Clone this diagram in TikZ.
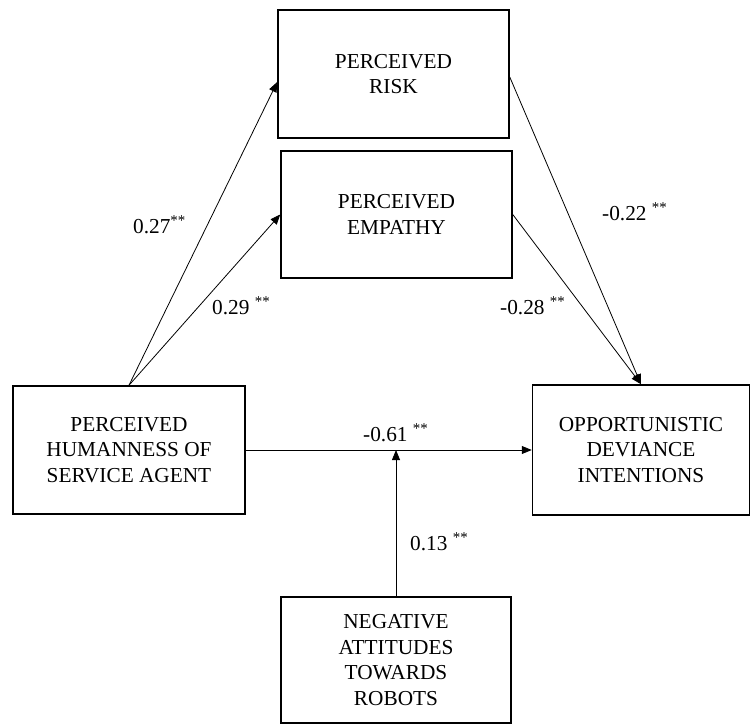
\documentclass[tikz,border=0pt]{standalone}
\usepackage{fontspec}
\setmainfont{Liberation Serif}
\usepackage{tikz}
\usetikzlibrary{arrows.meta,positioning,calc}

\tikzset{
	varbox/.style={draw, line width=1.5pt, align=center, inner sep=2pt,
		font=\fontsize{21.3}{25.5}\selectfont},
	path/.style={line width=0.8pt, -{Triangle[length=10pt,width=8pt]}},
	coef/.style={anchor=west, inner sep=0pt, font=\fontsize{21.3}{25.5}\selectfont}
}

\begin{document}
\begin{tikzpicture}[x=1pt,y=-1pt]
	\useasboundingbox (0,0) rectangle (752,725);
	
	% constructs
	\node[varbox, minimum width=231pt, minimum height=128pt] (risk) at (393.5,74) {PERCEIVED\\RISK};
	\node[varbox, minimum width=231pt, minimum height=127pt] (emp) at (396.5,214.5) {PERCEIVED\\EMPATHY};
	\node[varbox, minimum width=232pt, minimum height=128pt] (hum) at (129,450) {PERCEIVED\\HUMANNESS OF\\SERVICE AGENT};
	\node[varbox, minimum width=217pt, minimum height=130pt] (opp) at (641,450) {OPPORTUNISTIC\\DEVIANCE\\INTENTIONS};
	\node[varbox, minimum width=230pt, minimum height=126pt] (neg) at (396,660) {NEGATIVE\\ATTITUDES\\TOWARDS\\ROBOTS};
	
	% moderation point on the direct path
	\coordinate (mod) at (neg.north |- hum.east);
	
	% paths
	\draw[path] (hum.north) -- ([yshift=-8pt]risk.west);
	\draw[path] (hum.north) -- (emp.west);
	\draw[path] ([yshift=-3pt]risk.east) -- (opp.north);
	\draw[path] (emp.east) -- (opp.north);
	\draw[path] (hum.east) -- (opp.west);
	\draw[path] (neg.north) -- (mod);
	
	% coefficients
	\node[coef] (c1) at (133,225) {0.27\textsuperscript{**}};
	\node[coef] (c2) at (212,306) {0.29 \textsuperscript{**}};
	\node[coef] (c3) at (602,212) {-0.22 \textsuperscript{**}};
	\node[coef] (c4) at (500,306) {-0.28 \textsuperscript{**}};
	\node[coef] (c5) at (363,433) {-0.61 \textsuperscript{**}};
	\node[coef] (c6) at (410,542) {0.13 \textsuperscript{**}};
\end{tikzpicture}
\end{document}
